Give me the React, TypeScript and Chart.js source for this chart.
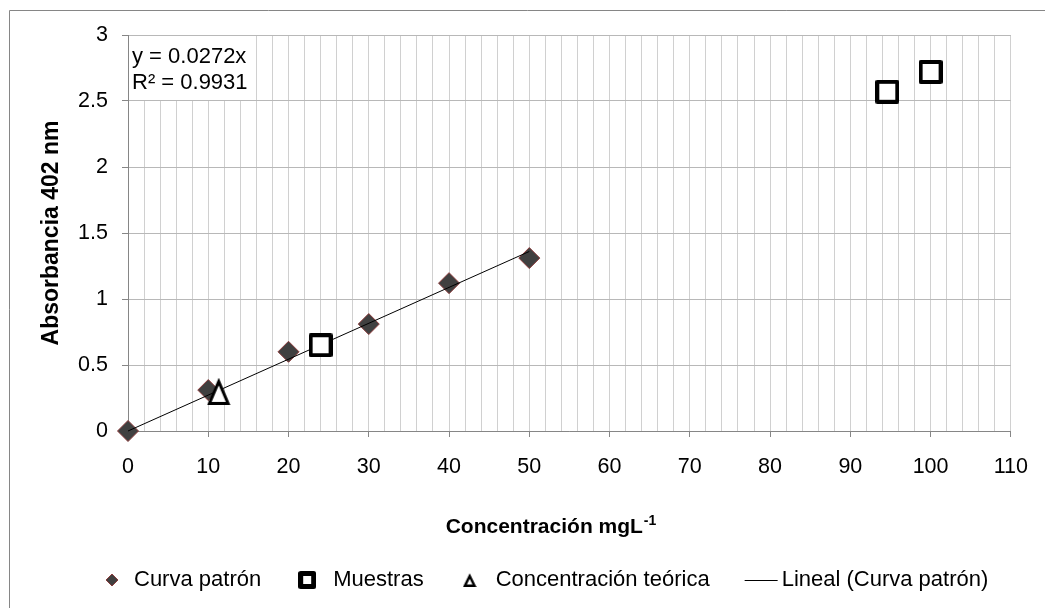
import { useEffect, useRef } from "react";
import { Chart, registerables } from "chart.js";

Chart.register(...registerables);

// Calibration standards (Curva patrón)
const standardConc = [0, 10, 20, 30, 40, 50];
const standardAbs = [0, 0.31, 0.6, 0.81, 1.12, 1.31];

// Measured samples (Muestras)
const sampleConc = [24, 94.6, 100];
const sampleAbs = [0.65, 2.57, 2.72];

// Theoretical concentration
const theoConc = [11.3];
const theoAbs = [0.3];

// Linear fit through the origin
const fitSlope = 0.0272;
const fitR2 = 0.9931;
const fitConc = [0, 50];

// Axis ranges and tick spacing
const xMin = 0;
const xMax = 110;
const xStep = 2;
const xLabelEvery = 10;
const yMin = 0;
const yMax = 3;
const yStep = 0.5;

const legendLabels = ["Curva patrón", "Muestras", "Concentración teórica", "Lineal (Curva patrón)"];
const xTitle = "Concentración mgL";
const xTitleSup = "-1";
const yTitle = "Absorbancia 402 nm";
const equationLines = [`y = ${fitSlope}x`, `R² = ${fitR2}`];

const FONT = '"Liberation Sans", Arial, Helvetica, sans-serif';
const AXIS_GRAY = "#868686";
const DIAMOND_FILL = "#404040";
const DIAMOND_EDGE = "#8a3b3b";

function squareMarker(outer: number, lw: number): HTMLCanvasElement {
  const c = document.createElement("canvas");
  c.width = outer;
  c.height = outer;
  const g = c.getContext("2d")!;
  const h = lw / 2;
  g.lineJoin = "round";
  g.fillStyle = "#fff";
  g.strokeStyle = "#000";
  g.lineWidth = lw;
  g.beginPath();
  g.rect(h, h, outer - lw, outer - lw);
  g.fill();
  g.stroke();
  return c;
}

function triangleMarker(w: number, h: number, lw: number): HTMLCanvasElement {
  const c = document.createElement("canvas");
  c.width = w;
  c.height = h;
  const g = c.getContext("2d")!;
  g.lineJoin = "miter";
  g.fillStyle = "#fff";
  g.strokeStyle = "#000";
  g.lineWidth = lw;
  const apexY = lw * 1.2;
  const baseY = h - lw / 2;
  const side = lw * 0.9;
  g.beginPath();
  g.moveTo(w / 2, apexY);
  g.lineTo(w - side, baseY);
  g.lineTo(side, baseY);
  g.closePath();
  g.fill();
  g.stroke();
  return c;
}

function drawDiamond(ctx: CanvasRenderingContext2D, x: number, y: number, r: number) {
  ctx.save();
  ctx.beginPath();
  ctx.moveTo(x - r, y);
  ctx.lineTo(x, y - r);
  ctx.lineTo(x + r, y);
  ctx.lineTo(x, y + r);
  ctx.closePath();
  ctx.fillStyle = DIAMOND_FILL;
  ctx.fill();
  ctx.lineWidth = 1;
  ctx.strokeStyle = DIAMOND_EDGE;
  ctx.stroke();
  ctx.restore();
}

export default function App() {
  const canvasRef = useRef<HTMLCanvasElement | null>(null);

  useEffect(() => {
    const canvas = canvasRef.current;
    if (!canvas) return;

    const sqPoint = squareMarker(24, 4);
    const triPoint = triangleMarker(24, 27, 3);
    const sqLegend = squareMarker(18, 5);
    const triLegend = triangleMarker(14, 14, 2.5);

    const decorations = {
      id: "decorations",
      beforeDraw(chart: any) {
        const ctx: CanvasRenderingContext2D = chart.ctx;
        ctx.save();
        ctx.fillStyle = "#fff";
        ctx.fillRect(0, 0, chart.width, chart.height);
        // chart frame
        ctx.strokeStyle = AXIS_GRAY;
        ctx.lineWidth = 1;
        ctx.beginPath();
        ctx.moveTo(9.5, chart.height);
        ctx.lineTo(9.5, 10.5);
        ctx.lineTo(chart.width, 10.5);
        ctx.stroke();
        ctx.restore();
      },
      beforeDatasetsDraw(chart: any) {
        const ctx: CanvasRenderingContext2D = chart.ctx;
        const area = chart.chartArea;
        ctx.save();
        // trendline equation label
        ctx.fillStyle = "#fff";
        ctx.fillRect(area.left + 1, area.top + 1, 126, 64);
        ctx.fillStyle = "#000";
        ctx.font = `22px ${FONT}`;
        ctx.textBaseline = "alphabetic";
        ctx.textAlign = "left";
        ctx.fillText(equationLines[0], area.left + 4, 63);
        ctx.fillText(equationLines[1], area.left + 4, 89);
        ctx.restore();
      },
      afterDraw(chart: any) {
        const ctx: CanvasRenderingContext2D = chart.ctx;
        const area = chart.chartArea;
        ctx.save();
        ctx.fillStyle = "#000";

        // y axis title
        ctx.save();
        ctx.font = `bold 23px ${FONT}`;
        ctx.translate(58, (area.top + area.bottom) / 2);
        ctx.rotate(-Math.PI / 2);
        ctx.textAlign = "center";
        ctx.textBaseline = "alphabetic";
        ctx.fillText(yTitle, 0, 0);
        ctx.restore();

        // x axis title with superscript
        ctx.textAlign = "left";
        ctx.textBaseline = "alphabetic";
        ctx.font = `bold 21px ${FONT}`;
        const wMain = ctx.measureText(xTitle).width;
        ctx.font = `bold 14px ${FONT}`;
        const wSup = ctx.measureText(xTitleSup).width;
        const total = wMain + 1 + wSup;
        const tx0 = 551 - total / 2;
        ctx.font = `bold 21px ${FONT}`;
        ctx.fillText(xTitle, tx0, 533);
        ctx.font = `bold 14px ${FONT}`;
        ctx.fillText(xTitleSup, tx0 + wMain + 1, 525);

        // legend
        ctx.font = `22px ${FONT}`;
        const by = 586;
        const my = 580;
        let cx = 112;
        drawDiamond(ctx, cx, my, 6);
        let tx = cx + 22;
        ctx.fillStyle = "#000";
        ctx.fillText(legendLabels[0], tx, by);
        let end = tx + ctx.measureText(legendLabels[0]).width;

        cx = end + 46;
        ctx.drawImage(sqLegend, cx - sqLegend.width / 2, my - sqLegend.height / 2);
        tx = cx + 26;
        ctx.fillText(legendLabels[1], tx, by);
        end = tx + ctx.measureText(legendLabels[1]).width;

        cx = end + 46;
        ctx.drawImage(triLegend, cx - triLegend.width / 2, my - triLegend.height / 2);
        tx = cx + 26;
        ctx.fillText(legendLabels[2], tx, by);
        end = tx + ctx.measureText(legendLabels[2]).width;

        tx = end + 72;
        ctx.strokeStyle = "#000";
        ctx.lineWidth = 1;
        ctx.beginPath();
        ctx.moveTo(tx - 37, my + 0.5);
        ctx.lineTo(tx - 4, my + 0.5);
        ctx.stroke();
        ctx.fillText(legendLabels[3], tx, by);

        ctx.restore();
      },
    };

    const chart = new Chart(canvas, {
      type: "scatter",
      data: {
        datasets: [
          {
            label: legendLabels[1],
            data: sampleConc.map((x, i) => ({ x, y: sampleAbs[i] })),
            pointStyle: sqPoint,
            pointRadius: 12,
            showLine: false,
            clip: false,
            order: 0,
          },
          {
            label: legendLabels[2],
            data: theoConc.map((x, i) => ({ x, y: theoAbs[i] })),
            pointStyle: triPoint,
            pointRadius: 12,
            showLine: false,
            clip: false,
            order: 1,
          },
          {
            label: legendLabels[3],
            data: fitConc.map((x) => ({ x, y: fitSlope * x })),
            showLine: true,
            borderColor: "#000",
            borderWidth: 1,
            pointRadius: 0,
            fill: false,
            clip: false,
            order: 2,
          },
          {
            label: legendLabels[0],
            data: standardConc.map((x, i) => ({ x, y: standardAbs[i] })),
            pointStyle: "rectRot",
            pointRadius: 10.5,
            backgroundColor: DIAMOND_FILL,
            borderColor: DIAMOND_EDGE,
            borderWidth: 1,
            showLine: false,
            clip: false,
            order: 3,
          },
        ] as any,
      },
      options: {
        responsive: false,
        maintainAspectRatio: false,
        animation: false,
        events: [],
        layout: { padding: { top: 35, right: 33, bottom: 0, left: 0 } },
        plugins: {
          legend: { display: false },
          tooltip: { enabled: false },
        },
        scales: {
          x: {
            type: "linear",
            min: xMin,
            max: xMax,
            ticks: {
              stepSize: xStep,
              autoSkip: false,
              maxRotation: 0,
              minRotation: 0,
              padding: 17,
              color: "#000",
              font: { family: FONT, size: 21.5 },
              callback: (v: any) => (Math.round(Number(v)) % xLabelEvery === 0 ? String(v) : ""),
            },
            grid: {
              color: "#d0d0d0",
              lineWidth: 1,
              tickLength: 6,
              tickColor: (c: any) =>
                c.tick && Math.round(Number(c.tick.value)) % xLabelEvery === 0 ? AXIS_GRAY : "rgba(0,0,0,0)",
            },
            border: { color: AXIS_GRAY, width: 1 },
            afterFit: (s: any) => {
              s.height = 177;
            },
          },
          y: {
            type: "linear",
            min: yMin,
            max: yMax,
            ticks: {
              stepSize: yStep,
              padding: 14,
              color: "#000",
              font: { family: FONT, size: 21.5 },
              callback: (v: any) => String(v),
            },
            grid: {
              color: "#b8b8b8",
              lineWidth: 1,
              tickLength: 6,
              tickColor: AXIS_GRAY,
            },
            border: { color: AXIS_GRAY, width: 1 },
            afterFit: (s: any) => {
              s.width = 128;
            },
          },
        },
      } as any,
      plugins: [decorations],
    });

    return () => {
      chart.destroy();
    };
  }, []);

  return (
    <div style={{ position: "fixed", left: 0, top: 0, width: 1045, height: 608, background: "#fff" }}>
      <canvas ref={canvasRef} width={1045} height={608} style={{ display: "block" }} />
    </div>
  );
}
